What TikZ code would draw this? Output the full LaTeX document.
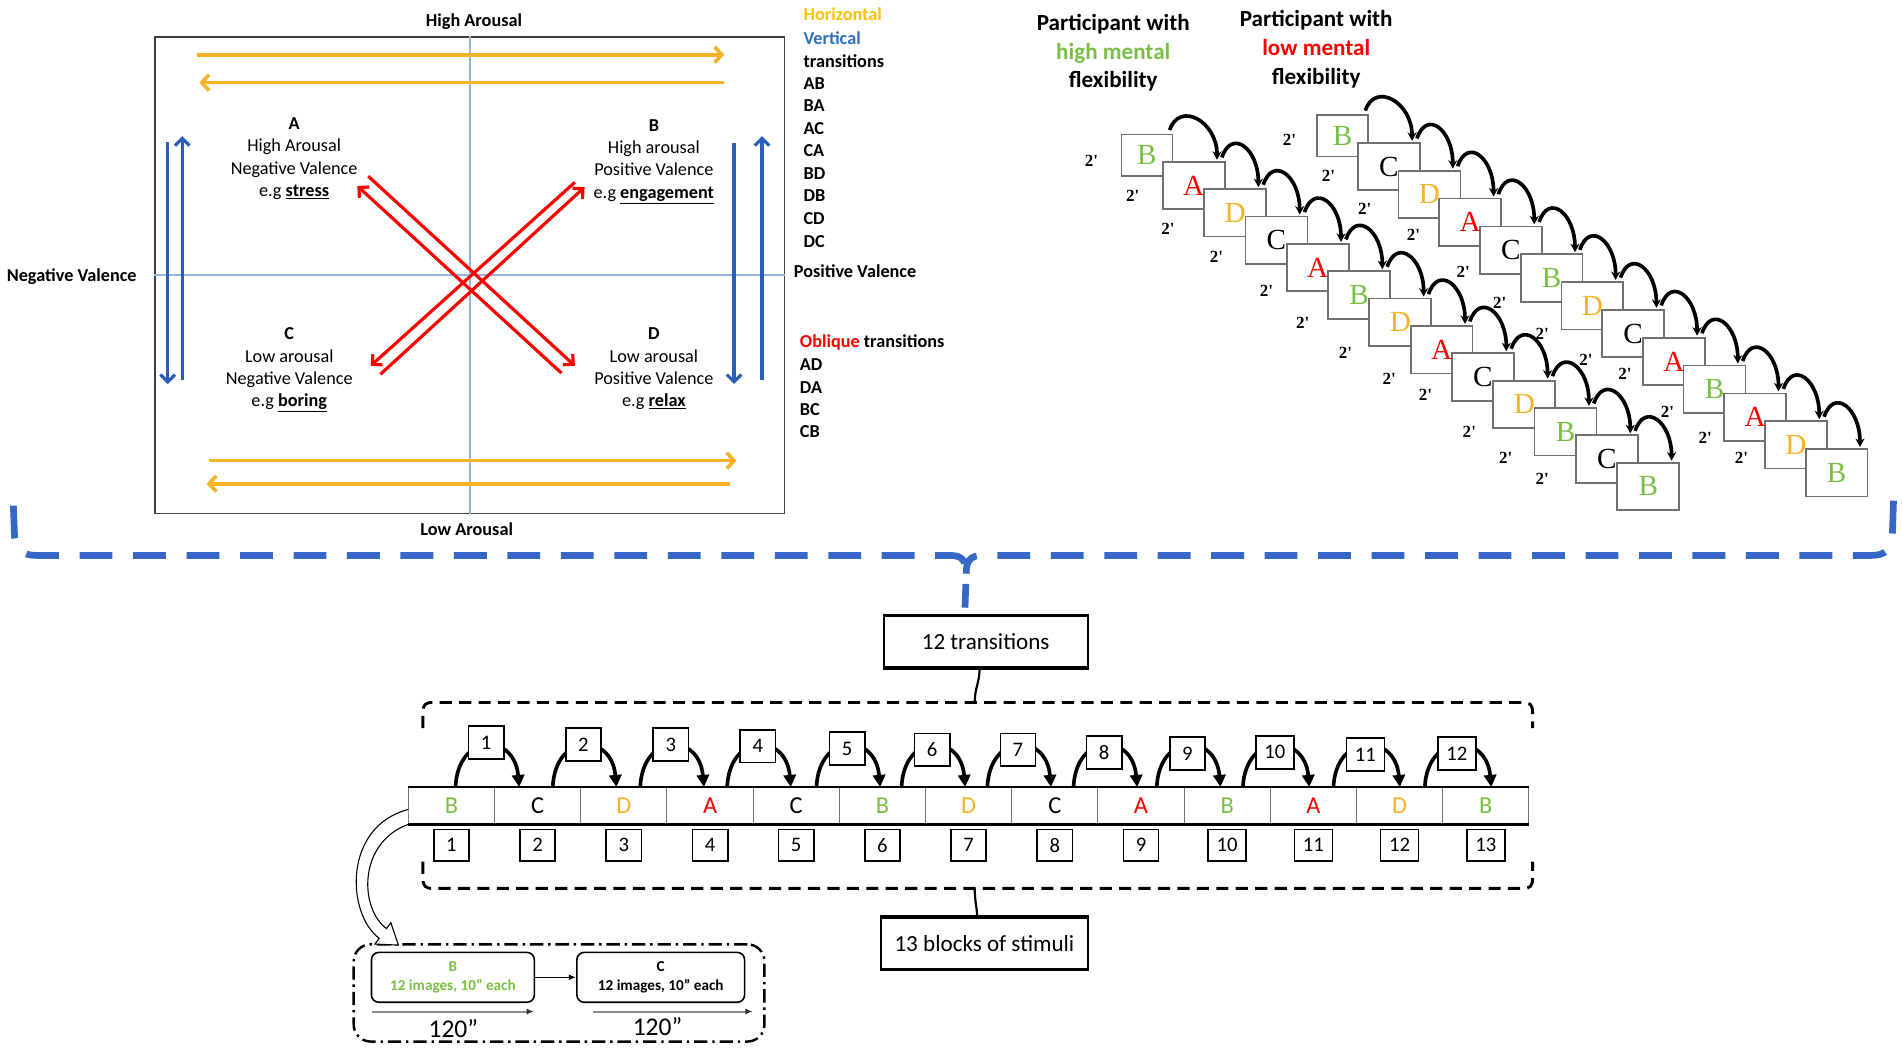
\documentclass[tikz,border=0pt]{standalone}
\usepackage{fontspec}
\setmainfont{Carlito}
\newfontfamily\tnr{Liberation Serif}
\usetikzlibrary{arrows.meta,calc,backgrounds}
\definecolor{orng}{HTML}{F7B327}
\definecolor{orngtxt}{HTML}{FFC000}
\definecolor{blu}{HTML}{2B5DBB}
\definecolor{blutxt}{HTML}{2E6FC0}
\definecolor{axisblue}{HTML}{94B6E2}
\definecolor{grn}{HTML}{78C043}
\definecolor{rd}{HTML}{FF0000}
\definecolor{dashblue}{HTML}{3667C6}
\definecolor{boxgray}{HTML}{707070}
\newcommand{\myfs}[1]{\fontsize{#1}{#1}\selectfont}
\begin{document}
\begin{tikzpicture}[x=1pt,y=-1pt,
  lbl/.style={inner sep=0pt,font=\bfseries\myfs{15}},
  blk/.style={inner sep=0pt,align=center,font=\fontsize{15}{18.3}\selectfont},
  hdr/.style={inner sep=0pt,align=center,font=\fontsize{19}{23.5}\selectfont\bfseries},
  harrow/.style={orng,line width=3pt,-{Straight Barb[length=6pt,width=13pt]}},
  varrow/.style={blu,line width=2.6pt,-{Straight Barb[length=6pt,width=12pt]}},
  oarrow/.style={rd,line width=2.6pt,-{Straight Barb[length=6pt,width=12pt]}},
  cbox/.style={draw=boxgray,fill=white,line width=1.4pt,inner sep=0pt,anchor=north west},
  clet/.style={font=\tnr\myfs{24},inner sep=0pt},
  two/.style={font=\tnr\bfseries\myfs{14},inner sep=0pt},
  carrow/.style={line width=3pt,-{Stealth[length=7pt,width=7.5pt]}},
  cell/.style={draw=boxgray,line width=0.8pt,minimum width=70.92pt,minimum height=30pt,inner sep=0pt,font=\myfs{20}},
  nbox/.style={draw,fill=white,line width=1.4pt,minimum width=29pt,minimum height=26pt,inner xsep=7pt,inner ysep=0pt,font=\myfs{17}},
  tarrow/.style={line width=3pt,-{Triangle[length=10pt,width=10pt]}},
  blkdash/.style={line width=2.4pt,dash pattern=on 10pt off 6pt},
  tbox/.style={draw,line width=1.6pt,minimum width=168pt,minimum height=42pt,inner sep=0pt,font=\myfs{19}}
]
\useasboundingbox (0,0) rectangle (1565,863);

% ---------------- quadrant panel ----------------
\node[draw=black!75,line width=1pt,minimum width=518pt,minimum height=392pt,inner sep=0pt,anchor=north west] (quad) at (127,30) {};
\draw[axisblue,line width=1.3pt] (quad.north) -- (quad.south);
\draw[axisblue,line width=1.3pt] (quad.west) -- (quad.east);

\node[lbl] (ha) at (390,18) {High Arousal};
\node[lbl] (la) at (384,435) {Low Arousal};
\node[lbl] (nv) at (59,228) {Negative Valence};
\node[lbl,anchor=west] (pv) at (653,223) {Positive Valence};

\coordinate (h1a) at (162,45);  \coordinate (h1b) at (596,45);
\coordinate (h2a) at (596,68);  \coordinate (h2b) at (164,68);
\coordinate (h3a) at (172,379); \coordinate (h3b) at (606,379);
\coordinate (h4a) at (601,398); \coordinate (h4b) at (170,398);
\draw[harrow] (h1a) -- (h1b);
\draw[harrow] (h2a) -- (h2b);
\draw[harrow] (h3a) -- (h3b);
\draw[harrow] (h4a) -- (h4b);

\coordinate (v1a) at (138,117); \coordinate (v1b) at (138,316);
\coordinate (v2a) at (150,313); \coordinate (v2b) at (150,112);
\coordinate (v3a) at (604,118); \coordinate (v3b) at (604,316);
\coordinate (v4a) at (627,313); \coordinate (v4b) at (627,112);
\draw[varrow] (v1a) -- (v1b);
\draw[varrow] (v2a) -- (v2b);
\draw[varrow] (v3a) -- (v3b);
\draw[varrow] (v4a) -- (v4b);

\coordinate (r1a) at (303,145); \coordinate (r1b) at (473,301);
\coordinate (r2a) at (462,307); \coordinate (r2b) at (294,153);
\coordinate (r3a) at (473,150); \coordinate (r3b) at (305,301);
\coordinate (r4a) at (313,308); \coordinate (r4b) at (481,154);
\draw[oarrow] (r1a) -- (r1b);
\draw[oarrow] (r2a) -- (r2b);
\draw[oarrow] (r3a) -- (r3b);
\draw[oarrow] (r4a) -- (r4b);

\node[blk] (qa) at (242,130.5) {\textbf{A}\\High Arousal\\Negative Valence\\e.g \underline{\textbf{stress}}};
\node[blk] (qb) at (538,133) {\textbf{B}\\High arousal\\Positive Valence\\e.g \underline{\textbf{engagement}}};
\node[blk] (qc) at (238,304.5) {\textbf{C}\\Low arousal\\Negative Valence\\e.g \underline{\textbf{boring}}};
\node[blk] (qd) at (538,303.5) {\textbf{D}\\Low arousal\\Positive Valence\\e.g \underline{\textbf{relax}}};

% legend
\node[lbl,anchor=west,text=orngtxt] (lh) at (661,12) {Horizontal};
\node[lbl,anchor=west,text=blutxt] (lv) at (661,31) {Vertical};
\node[lbl,anchor=west] (lt) at (661,50) {transitions};
\foreach \t [count=\k] in {AB,BA,AC,CA,BD,DB,CD,DC}
  \node[lbl,anchor=west] (lg\k) at (661,{50+18.55*\k}) {\t};
\node[lbl,anchor=west] (lo) at (658,282) {\textcolor{rd}{Oblique} transitions};
\foreach \t [count=\k] in {AD,DA,BC,CB}
  \node[lbl,anchor=west] (lq\k) at (658,{282+18.3*\k}) {\t};

% ---------------- cascades ----------------
\node[hdr] (p1) at (916,43.5) {Participant with\\\textcolor{grn}{high mental}\\flexibility};
\node[hdr] (p2) at (1083,40.5) {Participant with\\\textcolor{rd}{low mental}\\flexibility};

% left cascade
\foreach \i in {0,...,12}{
  \pgfmathsetmacro\bw{\i==0?42:51}
  \pgfmathsetmacro\bh{\i==0?34:39}
  \node[cbox,minimum width=\bw pt,minimum height=\bh pt] (L\i) at ({922+34*\i},{110+22.5*\i}) {};
}
\foreach \lt/\clr [count=\i from 0] in {B/grn,A/rd,D/orng,C/black,A/rd,B/grn,D/orng,A/rd,C/black,D/orng,B/grn,C/black,B/grn}
  \node[clet,text=\clr] (LL\i) at (L\i.center) {\lt};
\foreach \i [evaluate=\i as \j using int(\i+1)] in {0,...,11}
  \draw[carrow] ($(L\i.north east)+(-3,-3)$) .. controls +(8,-24) and +(0,-32) .. ($(L\j.north east)+(-7,-1)$);
\foreach \x/\y [count=\k] in {898/132,932/161,961/188,1001/211,1042/239,1072/266,1107/290,1143/312,1173/325,1209/355,1239/377,1269/394}
  \node[two] (Lt\k) at (\x,\y) {2'};

% right cascade
\foreach \i in {0,...,12}{
  \pgfmathsetmacro\bw{\i==0?42:51}
  \pgfmathsetmacro\bh{\i==0?34:39}
  \node[cbox,minimum width=\bw pt,minimum height=\bh pt] (R\i) at ({1083+33.5*\i},{94+22.9*\i}) {};
}
\foreach \lt/\clr [count=\i from 0] in {B/grn,C/black,D/orng,A/rd,C/black,B/grn,D/orng,C/black,A/rd,B/grn,A/rd,D/orng,B/grn}
  \node[clet,text=\clr] (RL\i) at (R\i.center) {\lt};
\foreach \i [evaluate=\i as \j using int(\i+1)] in {0,...,11}
  \draw[carrow] ($(R\i.north east)+(-3,-3)$) .. controls +(8,-24) and +(0,-32) .. ($(R\j.north east)+(-7,-1)$);
\foreach \x/\y [count=\k] in {1061/115,1093/145,1123/172,1163/193,1204/224,1234/249,1269/275,1305/296,1337/308,1372/339,1403/360,1433/377}
  \node[two] (Rt\k) at (\x,\y) {2'};

% ---------------- blue dashed brace ----------------
\draw[dashblue,line width=5.5pt,dash pattern=on 27pt off 17pt]
  (11,416) -- (12,442) .. controls (13,452) and (18,457) .. (30,457) -- (782,457)
  .. controls (792,457) and (795,462) .. (795,472) -- (794,500);
\draw[dashblue,line width=5.5pt,dash pattern=on 27pt off 17pt]
  (1558,412) -- (1557,442) .. controls (1556,452) and (1551,457) .. (1540,457) -- (808,457)
  .. controls (798,457) and (795,462) .. (795,472);

% ---------------- bottom sequence ----------------
\node[tbox] (tr) at (811,528) {12 transitions};
\node[tbox,minimum width=170pt] (bl) at (810,776) {13 blocks of stimuli};
\draw[line width=2.6pt] (tr.north west) -- (tr.north east);
\draw[line width=2.6pt] (tr.south west) -- (tr.south east);
\draw[line width=2.6pt] (bl.north west) -- (bl.north east);
\draw[line width=2.6pt] (bl.south west) -- (bl.south east);

\draw[blkdash] (348,599) -- (348,586) .. controls (348,580) and (350,578) .. (356,578) -- (1253,578)
  .. controls (1259,578) and (1261,580) .. (1261,586) -- (1261,599);
\draw[line width=1.8pt] (802,578) .. controls (802,566) and (806,562) .. ([xshift=-5pt]tr.south);
\draw[blkdash] (348,709) -- (348,723) .. controls (348,729) and (350,731) .. (356,731) -- (1253,731)
  .. controls (1259,731) and (1261,729) .. (1261,723) -- (1261,709);
\draw[line width=1.8pt] (802,731) .. controls (802,741) and (804,748) .. ([xshift=-6pt]bl.north);

\foreach \lt/\clr [count=\i] in {B/grn,C/black,D/orng,A/rd,C/black,B/grn,D/orng,C/black,A/rd,B/grn,A/rd,D/orng,B/grn}
  \node[cell,text=\clr] (c\i) at ({336+70.92*(\i-0.5)},663) {\lt};
\draw[line width=2pt] (c1.north west) -- (c13.north east);
\draw[line width=2.4pt] (c1.south west) -- (c13.south east);

\foreach \i in {1,...,13}
  \node[nbox] (b\i) at ({336+70.92*(\i-0.5)},695.5) {\i};

\foreach \n/\x/\y in {1/400/611,2/480/612.5,3/552/612.5,4/623.5/614,5/697/616,6/767/617,7/837.6/617,8/908.5/619,9/977/620,10/1049/619,11/1123.5/621,12/1198.7/620}{
  \node[nbox,minimum height=27pt] (t\n) at (\x,\y) {\n};
  \begin{pgfonlayer}{background}
    \draw[tarrow] ($(t\n.west|-c1.north)+(-10,0)$) .. controls +(2,-45) and +(-4,-45) .. ($(t\n.east|-c1.north)+(12,0)$);
  \end{pgfonlayer}
}

% ---------------- detail box ----------------
\node[draw,line width=2pt,dash pattern=on 11pt off 4pt on 2pt off 4pt,rounded corners=14pt,minimum width=338pt,minimum height=80pt,inner sep=0pt,anchor=north west] (dd) at (290,776) {};
\draw[line width=0.9pt,fill=white] (336,666) .. controls (282,680) and (285,752) .. (312,772)
  -- (308.4,776.8) -- (327.8,777.6) -- (321.6,759.2) -- (318,764)
  .. controls (296,748) and (294,694) .. (c1.south west);
\node[draw,line width=1.3pt,rounded corners=6pt,minimum width=134pt,minimum height=41pt,anchor=north west,inner sep=0pt,align=center,font=\bfseries\fontsize{12.5}{15.5}\selectfont,text=grn] (sb) at (305,783) {B\\12 images, 10'' each};
\node[draw,line width=1.3pt,rounded corners=6pt,minimum width=138pt,minimum height=41pt,anchor=north west,inner sep=0pt,align=center,font=\bfseries\fontsize{12.5}{15.5}\selectfont] (sc) at (474,783) {C\\12 images, 10'' each};
\draw[line width=1.2pt,-{Latex[length=6pt,width=5pt]}] (sb.east) -- (sc.west);
\draw[black!45,line width=1.6pt,-{Latex[length=6pt,width=5pt,black!80]}] ($(sb.south west)+(1,7)$) -- ($(sb.south east)+(-1,7)$);
\draw[black!45,line width=1.6pt,-{Latex[length=6pt,width=5pt,black!80]}] ($(sc.south west)+(14,7)$) -- ($(sc.south east)+(6,7)$);
\node[inner sep=0pt,font=\myfs{21}] (s1) at (373,846) {120''};
\node[inner sep=0pt,font=\myfs{21}] (s2) at (541,845) {120''};
\end{tikzpicture}
\end{document}
